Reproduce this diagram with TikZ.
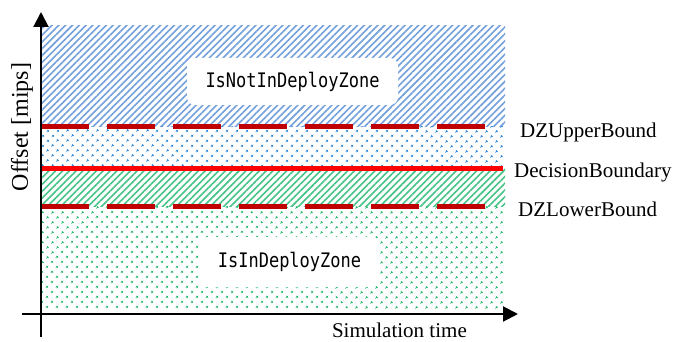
\documentclass[tikz,border=0pt]{standalone}
\usepackage{fontspec}
\setmainfont{Liberation Serif}
\newfontfamily\zonefont[FakeStretch=0.85]{DejaVu Sans Mono}
\usetikzlibrary{arrows.meta,patterns.meta}

\definecolor{hatchblue}{RGB}{115,160,220}
\definecolor{dotblue}{RGB}{45,135,215}
\definecolor{hatchgreen}{RGB}{70,195,135}
\definecolor{dotgreen}{RGB}{40,185,110}
\definecolor{boundred}{RGB}{192,0,0}
\definecolor{decisionred}{RGB}{255,0,0}

\begin{document}
\begin{tikzpicture}[x=1pt,y=-1pt,
  bluehatch/.style={pattern={Lines[angle=45,distance=4.8pt,line width=1.6pt]},pattern color=hatchblue},
  bluedots/.style={pattern={Dots[angle=45,distance=7.4pt,radius=1.5pt]},pattern color=dotblue},
  greenhatch/.style={pattern={Lines[angle=45,distance=4.8pt,line width=1.6pt]},pattern color=hatchgreen},
  greendots/.style={pattern={Dots[angle=45,distance=7.4pt,radius=1.5pt]},pattern color=dotgreen},
  zonebox/.style={fill=white,rounded corners=8pt,inner sep=0pt,font=\zonefont\fontsize{20}{24}\selectfont},
  boundline/.style={draw=boundred,line width=5pt,dash pattern=on 48pt off 18pt},
  decisionline/.style={draw=decisionred,line width=5pt},
  boundlabel/.style={anchor=base west,inner sep=0pt,font=\fontsize{21}{25}\selectfont},
  axis/.style={draw=black,line width=2pt,-{Triangle[length=15pt,width=15pt]}},
]
\useasboundingbox (0,0) rectangle (688,342);

% zones of the offset range
\path[bluehatch]  (42,26)  rectangle (505,127);
\path[bluedots]   (42,127) rectangle (505,168);
\path[greenhatch] (42,168) rectangle (505,206);
\path[greendots]  (42,206) rectangle (505,308);

% zone names
\node[zonebox,minimum width=211pt,minimum height=47pt] (notin) at (292.5,81.5) {IsNotInDeployZone};
\node[zonebox,minimum width=180pt,minimum height=50pt] (in) at (289.5,262) {IsInDeployZone};

% bounds and decision boundary
\coordinate (ub0) at (41,127);  \coordinate (ub1) at (486,127);
\coordinate (db0) at (41,168);  \coordinate (db1) at (503,168);
\coordinate (lb0) at (41,206);  \coordinate (lb1) at (486,206);
\draw[boundline] (ub0) -- (ub1);
\draw[decisionline] (db0) -- (db1);
\draw[boundline] (lb0) -- (lb1);

\node[boundlabel] (ublabel) at (520,138) {DZUpperBound};
\node[boundlabel] (dblabel) at (514,177) {DecisionBoundary};
\node[boundlabel] (lblabel) at (518,216) {DZLowerBound};

% axes
\coordinate (ystart) at (41,337); \coordinate (yend) at (41,12);
\coordinate (xstart) at (22,314); \coordinate (xend) at (518,314);
\draw[axis] (ystart) -- (yend);
\draw[axis] (xstart) -- (xend);

\node[anchor=base east,inner sep=0pt,font=\fontsize{21}{25}\selectfont] (xlabel) at (467,337) {Simulation time};
\node[rotate=90,inner sep=0pt,font=\fontsize{24}{28}\selectfont] (ylabel) at (22,127) {Offset [mips]};
\end{tikzpicture}
\end{document}
